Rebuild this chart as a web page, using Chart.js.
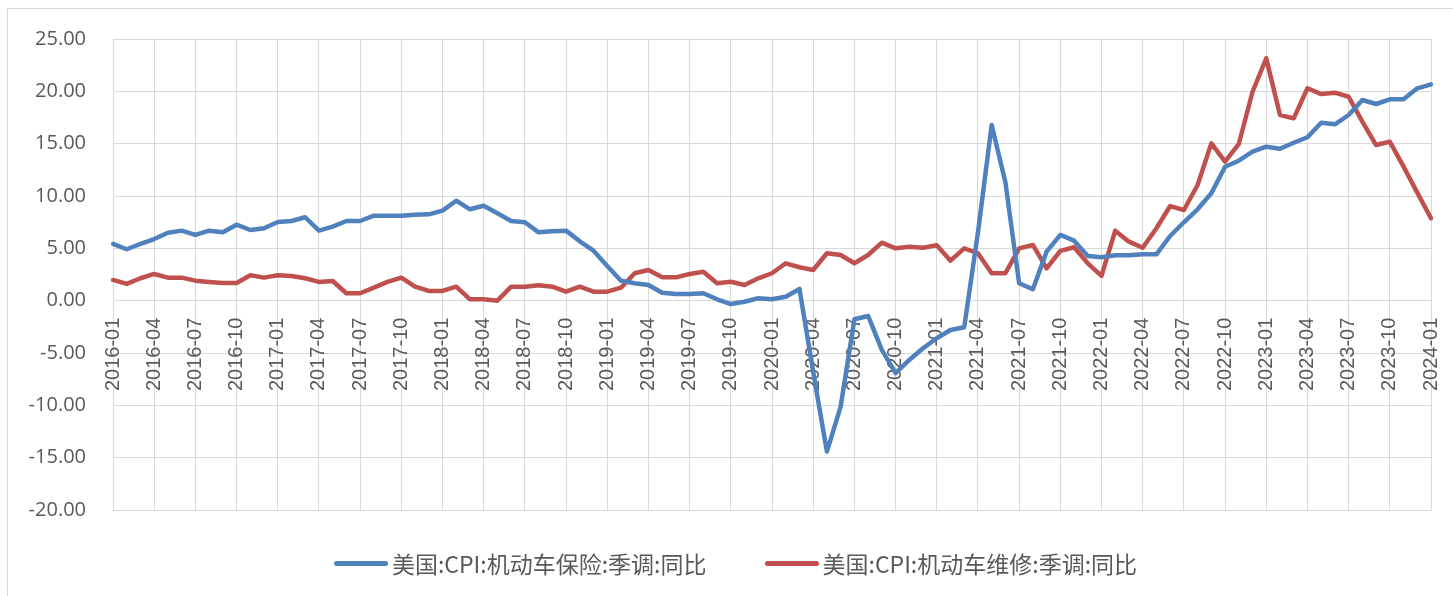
<!DOCTYPE html>
<html>
<head>
<meta charset="utf-8">
<script src="https://cdn.jsdelivr.net/npm/chart.js@4.4.0/dist/chart.umd.min.js"></script>
<style>
  body { margin: 0; background: #fff; }
  .wrap { position: relative; width: 1453px; height: 596px; overflow: hidden; }
  .frame { position: absolute; left: 7px; top: 8px; width: 1500px; height: 700px; border: 1px solid #d9d9d9; box-sizing: border-box; }
  canvas { position: absolute; left: 0; top: 0; }
  .legend { position: absolute; left: 18px; right: 0; top: 546px; display: flex; justify-content: center; gap: 58px;
            font: 23px "Noto Sans CJK SC"; color: #595959; }
  .item { display: flex; align-items: center; }
  .swatch { width: 54px; height: 5px; border-radius: 3px; margin-right: 4px; }
</style>
</head>
<body>
<div class="wrap">
  <div class="frame"></div>
  <canvas id="chart" width="1453" height="596"></canvas>
  <div class="legend" id="legend"></div>
</div>
<script>
// monthly, 2016-01 .. 2024-01
const months = [];
for (let y = 2016; y <= 2024; y++) {
  for (let m = 1; m <= 12; m++) {
    if (y === 2024 && m > 1) break;
    months.push(y + "-" + String(m).padStart(2, "0"));
  }
}

const seriesNames = ["美国:CPI:机动车保险:季调:同比", "美国:CPI:机动车维修:季调:同比"];
const seriesColors = ["#4f81bd", "#c0504d"];

const insurance = [
  5.42, 4.91, 5.42, 5.89, 6.49, 6.69, 6.28, 6.69, 6.53, 7.26, 6.75, 6.92,
  7.52, 7.61, 7.97, 6.69, 7.07, 7.61, 7.61, 8.12, 8.12, 8.12, 8.21, 8.25,
  8.60, 9.55, 8.73, 9.07, 8.35, 7.61, 7.49, 6.53, 6.63, 6.69, 5.67, 4.78,
  3.31, 1.91, 1.66, 1.50, 0.76, 0.64, 0.64, 0.71, 0.13, -0.32, -0.10, 0.23,
  0.13, 0.38, 1.12, -6.80, -14.42, -10.12, -1.78, -1.46, -4.71, -6.93, -5.66, -4.55,
  -3.59, -2.80, -2.54, 6.50, 16.78, 11.31, 1.66, 1.09, 4.68, 6.28, 5.73, 4.27,
  4.14, 4.34, 4.34, 4.43, 4.43, 6.18, 7.49, 8.73, 10.26, 12.80, 13.37, 14.23,
  14.71, 14.52, 15.09, 15.61, 17.00, 16.85, 17.74, 19.17, 18.79, 19.24, 19.24, 20.29,
  20.67
];

const repair = [
  1.98, 1.60, 2.14, 2.55, 2.20, 2.20, 1.91, 1.79, 1.69, 1.69, 2.43, 2.20,
  2.43, 2.36, 2.14, 1.79, 1.88, 0.71, 0.71, 1.24, 1.79, 2.20, 1.34, 0.93,
  0.93, 1.34, 0.13, 0.13, 0.00, 1.34, 1.34, 1.47, 1.34, 0.86, 1.34, 0.86,
  0.86, 1.24, 2.62, 2.93, 2.23, 2.23, 2.55, 2.77, 1.66, 1.81, 1.50, 2.14,
  2.62, 3.57, 3.19, 2.93, 4.53, 4.36, 3.57, 4.36, 5.54, 5.00, 5.16, 5.06,
  5.29, 3.82, 5.00, 4.53, 2.62, 2.62, 5.00, 5.32, 3.09, 4.75, 5.10, 3.57,
  2.36, 6.69, 5.64, 5.06, 6.92, 9.04, 8.66, 11.05, 15.03, 13.28, 14.97, 19.96,
  23.15, 17.74, 17.42, 20.29, 19.74, 19.87, 19.48, 17.10, 14.87, 15.19, 12.80, 10.32,
  7.87
];

const yMin = -20, yMax = 25, yStep = 5;
const gridColor = "#d9d9d9";
const textColor = "#595959";

new Chart(document.getElementById("chart"), {
  type: "line",
  data: {
    labels: months,
    datasets: [insurance, repair].map((data, i) => ({
      label: seriesNames[i],
      data,
      borderColor: seriesColors[i],
      backgroundColor: seriesColors[i],
      borderWidth: 4.5,
      borderJoinStyle: "round",
      borderCapStyle: "round",
      pointRadius: 0,
      tension: 0,
    })),
  },
  options: {
    responsive: false,
    animation: false,
    layout: { padding: { top: 39, right: 22, bottom: 86, left: 0 } },
    plugins: {
      legend: { display: false },
      tooltip: { enabled: false },
    },
    scales: {
      x: {
        position: { y: 0 },
        border: { display: false },
        grid: { drawTicks: false, color: gridColor },
        ticks: {
          autoSkip: false,
          minRotation: 90,
          maxRotation: 90,
          padding: 17,
          color: textColor,
          font: { family: "Liberation Sans", size: 20 },
          // one label (and grid line) per quarter
          callback: function (v, i) {
            return i % 3 === 0 ? this.getLabelForValue(v) : null;
          },
        },
        afterFit: (scale) => {
          scale.paddingLeft = 0;
          scale.paddingRight = 0;
        },
      },
      y: {
        min: yMin,
        max: yMax,
        border: { display: false },
        grid: { color: gridColor, drawTicks: false },
        ticks: {
          stepSize: yStep,
          padding: 27,
          color: textColor,
          font: { family: "Open Sans", size: 20 },
          callback: (v) => v.toFixed(2),
        },
        afterFit: (scale) => { scale.width = 113; },
      },
    },
  },
});

// legend, drawn as html like the original sheet legend
const legend = document.getElementById("legend");
seriesNames.forEach((name, i) => {
  const item = document.createElement("div");
  item.className = "item";
  item.innerHTML = `<span class="swatch" style="background:${seriesColors[i]}"></span><span>${name}</span>`;
  legend.appendChild(item);
});
</script>
</body>
</html>
